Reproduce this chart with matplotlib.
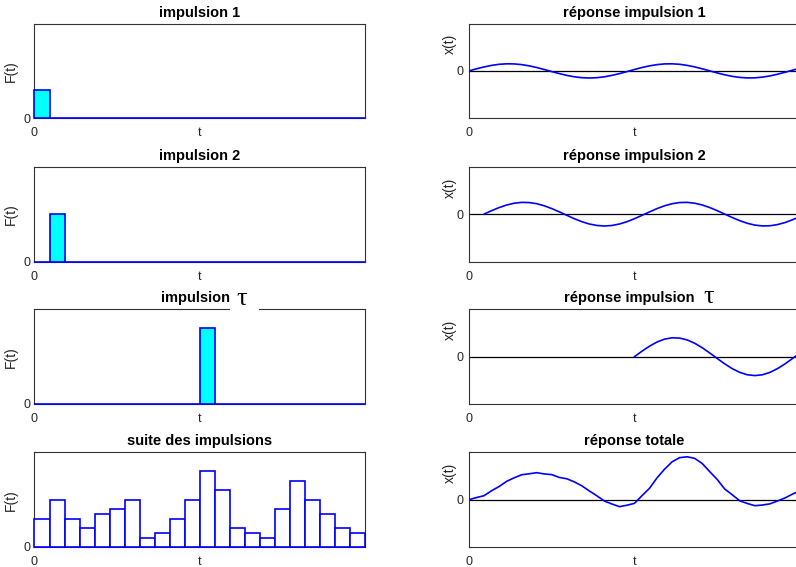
import numpy as np
import matplotlib
matplotlib.use('Agg')
import matplotlib.pyplot as plt
from matplotlib.patches import Rectangle

plt.rcParams['font.family'] = ['Liberation Sans', 'DejaVu Sans']

# ---------------- data ----------------
heights = [3, 5, 3, 2, 3.5, 4, 5, 1, 1.5, 3, 5, 8, 6, 2, 1.5, 1, 4, 7, 5, 3.5, 2, 1.5]
idx_imp1 = 0
idx_imp2 = 1
idx_tau = 11
xtick_pos = [0, 11]
xtick_labels = ['0', 't']

# response to impulse 1 (t = 0 .. 22, step 0.5)
t_resp1 = np.arange(0, 22.5, 0.5)
resp1 = [0, .044, .083, .116, .139, .149, .147, .132, .106, .071, .029, -.015, -.057,
         -.095, -.125, -.144, -.150, -.144, -.125, -.095, -.058, -.015, .029, .071,
         .106, .132, .147, .149, .139, .116, .084, .044, 0, -.043, -.083, -.116, -.138,
         -.149, -.147, -.132, -.107, -.071, -.030, .014, .057]
# response to impulse 2 (t = 1 .. 22, step 0.5)
t_resp2 = np.arange(1, 22.5, 0.5)
resp2 = [0, .073, .139, .193, .231, .249, .245, .221, .177, .118, .049, -.024, -.096,
         -.159, -.208, -.239, -.250, -.239, -.208, -.159, -.096, -.025, .048, .118,
         .177, .220, .245, .249, .231, .194, .140, .073, .001, -.072, -.138, -.193,
         -.231, -.249, -.245, -.221, -.178, -.119, -.050]
# response to impulse tau (t = 11 .. 22, step 0.5)
t_resp_tau = np.arange(11, 22.5, 0.5)
resp_tau = [0, .116, .222, .309, .370, .398, .392, .353, .283, .189, .078, -.039,
            -.153, -.254, -.332, -.383, -.400, -.383, -.333, -.254, -.154, -.040, .077]
# total response (t = 0 .. 22, step 0.5)
t_total = np.arange(0, 22.5, 0.5)
resp_total = [0, .044, .083, .188, .277, .386, .461, .526, .546, .569, .543, .529,
              .469, .441, .375, .292, .183, .081, -.029, -.092, -.148, -.118, -.078,
              .084, .240, .461, .644, .799, .887, .905, .872, .764, .592, .426, .223,
              .103, -.026, -.081, -.128, -.114, -.089, -.029, .035, .117, .189]

# ---------------- figure ----------------
fig = plt.figure(figsize=(7.96, 5.67), dpi=100)
bottoms = [0.7915, 0.5388, 0.2875, 0.0353]
H = 0.167
W = 0.4158
LX = 0.0433
RX = 0.5892

BLUE = '#0000ff'
CYAN = '#00ffff'
SPINE = '#333333'
TXT = '#262626'
SERIF = ['Liberation Serif', 'DejaVu Serif']


def base_style(ax):
    for s in ax.spines.values():
        s.set_color(SPINE)
        s.set_linewidth(0.8)
    ax.set_xlim(0, len(heights))
    ax.set_xticks(xtick_pos)
    ax.set_xticklabels(xtick_labels)
    ax.tick_params(length=0, labelsize=9, colors=TXT)
    ax.tick_params(axis='x', pad=6.5)


def left_panel(ax, vals, face, title=None):
    base_style(ax)
    ax.bar(np.arange(len(vals)), vals, width=1, align='edge', facecolor=face,
           edgecolor=BLUE, linewidth=1.2, clip_on=False, zorder=3)
    ax.set_ylim(0, 10)
    ax.set_yticks([0])
    ax.set_yticklabels(['0'])
    ax.tick_params(axis='y', pad=3)
    ax.set_ylabel('F(t)', fontsize=10, color=TXT)
    ax.yaxis.set_label_coords(-0.05, 0.5)
    if title:
        ax.set_title(title, fontsize=10.5, fontweight='bold', pad=5, color='black')


def right_panel(ax, t, y, title=None):
    base_style(ax)
    ax.axhline(0, color='black', linewidth=0.9, zorder=2)
    ax.plot(t, y, color=BLUE, linewidth=1.2, zorder=3)
    ax.set_ylim(-1, 1)
    ax.set_yticks([0])
    ax.set_yticklabels(['0'])
    ax.tick_params(axis='y', pad=4)
    ax.set_ylabel('x(t)', fontsize=10, color=TXT)
    ax.yaxis.set_label_coords(-0.036, 0.78)
    if title:
        ax.set_title(title, fontsize=10.5, fontweight='bold', pad=5, color='black')


def single(idx):
    return [h if i == idx else 0 for i, h in enumerate(heights)]


# row 1
ax = fig.add_axes([LX, bottoms[0], W, H])
left_panel(ax, single(idx_imp1), CYAN, 'impulsion 1')
ax = fig.add_axes([RX, bottoms[0], W, H])
right_panel(ax, t_resp1, resp1, 'réponse impulsion 1')

# row 2
ax = fig.add_axes([LX, bottoms[1], W, H])
left_panel(ax, single(idx_imp2), CYAN, 'impulsion 2')
ax = fig.add_axes([RX, bottoms[1], W, H])
right_panel(ax, t_resp2, resp2, 'réponse impulsion 2')

# row 3
ax = fig.add_axes([LX, bottoms[2], W, H])
left_panel(ax, single(idx_tau), CYAN)
tt = ax.set_title('impulsion', fontsize=10.5, fontweight='bold', pad=5, color='black')
tt.set_x(0.382)
tt.set_ha('left')
ax.add_patch(Rectangle((0.59, 0.9), 0.088, 0.2, transform=ax.transAxes,
                       facecolor='white', edgecolor='none', zorder=4, clip_on=False))
ax.annotate('τ', xy=(0.625, 1.0), xycoords='axes fraction', xytext=(0, 3),
            textcoords='offset points', fontsize=19, family=SERIF,
            ha='center', va='baseline', zorder=5, annotation_clip=False)
ax = fig.add_axes([RX, bottoms[2], W, H])
right_panel(ax, t_resp_tau, resp_tau)
tt = ax.set_title('réponse impulsion', fontsize=10.5, fontweight='bold', pad=5, color='black')
tt.set_x(0.288)
tt.set_ha('left')
ax.annotate('τ', xy=(0.724, 1.0), xycoords='axes fraction', xytext=(0, 4.3),
            textcoords='offset points', fontsize=19, family=SERIF,
            ha='center', va='baseline', zorder=5, annotation_clip=False)

# row 4
ax = fig.add_axes([LX, bottoms[3], W, H])
left_panel(ax, heights, 'white', 'suite des impulsions')
ax = fig.add_axes([RX, bottoms[3], W, H])
right_panel(ax, t_total, resp_total, 'réponse totale')

fig.savefig('out.png', dpi=100, facecolor='white')
